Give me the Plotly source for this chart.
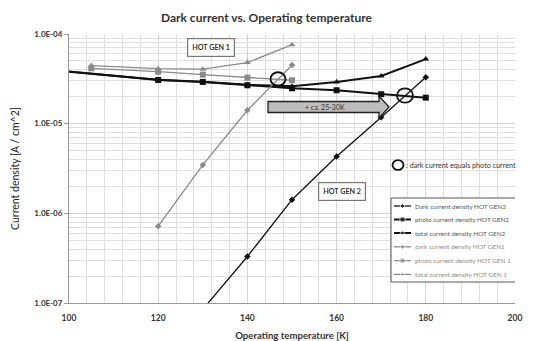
import plotly.graph_objects as go

# Operating temperatures [K]
temps_gen2 = [90, 120, 130, 140, 150, 160, 170, 180]
temps_gen2_dark = [130, 140, 150, 160, 170, 180]
temps_gen1 = [105, 120, 130, 140, 150]
temps_gen1_dark = [120, 130, 140, 150]

# Current densities [A / cm^2]
dark_gen2 = [8.5e-8, 3.3e-7, 1.42e-6, 4.3e-6, 1.18e-5, 3.3e-5]
photo_gen2 = [4.23e-5, 3.07e-5, 2.92e-5, 2.68e-5, 2.48e-5, 2.36e-5, 2.13e-5, 1.95e-5]
total_gen2 = [4.23e-5, 3.08e-5, 2.94e-5, 2.72e-5, 2.62e-5, 2.92e-5, 3.4e-5, 5.25e-5]

dark_gen1 = [7.2e-7, 3.47e-6, 1.41e-5, 4.51e-5]
photo_gen1 = [4.14e-5, 3.8e-5, 3.52e-5, 3.26e-5, 3.05e-5]
total_gen1 = [4.45e-5, 4.1e-5, 4.05e-5, 4.8e-5, 7.6e-5]

x_ticks = [100, 120, 140, 160, 180, 200]
y_ticks = [1e-7, 1e-6, 1e-5, 1e-4]
y_tick_text = ["1.0E-07", "1.0E-06", "1.0E-05", "1.0E-04"]

BLACK = "#111111"
GRAY = "#8a8a8a"
FONT = "Lato"

W, H = 533, 341
L, R, T, B = 69, 18, 34, 38
PW, PH = W - L - R, H - T - B


def px(x):
    return (x - L) / PW


def py(y):
    return (H - B - y) / PH


series = [
    dict(x=temps_gen2_dark, y=dark_gen2, name="Dark current density HOT GEN2",
         color=BLACK, width=1.3, symbol="diamond", size=5, text="#555"),
    dict(x=temps_gen2, y=photo_gen2, name="photo current density HOT GEN2",
         color=BLACK, width=2, symbol="square", size=6, text="#555"),
    dict(x=temps_gen2, y=total_gen2, name="total current density HOT GEN2",
         color=BLACK, width=2, symbol="triangle-up", size=6, text="#555"),
    dict(x=temps_gen1_dark, y=dark_gen1, name="dark current density HOT GEN1",
         color=GRAY, width=1.3, symbol="diamond", size=5, text="#8a8a8a"),
    dict(x=temps_gen1, y=photo_gen1, name="photo current density HOT GEN 1",
         color=GRAY, width=1.3, symbol="square", size=6, text="#8a8a8a"),
    dict(x=temps_gen1, y=total_gen1, name="total current density HOT GEN 1",
         color=GRAY, width=1.3, symbol="triangle-up", size=6, text="#8a8a8a"),
]

fig = go.Figure()
for s in series:
    fig.add_trace(go.Scatter(
        x=s["x"], y=s["y"], mode="lines+markers", name=s["name"], showlegend=False,
        line=dict(color=s["color"], width=s["width"]),
        marker=dict(symbol=s["symbol"], size=s["size"], color=s["color"])))

# Legend box, drawn on an overlay axis so its rows can be packed tightly
leg_x0, leg_x1, leg_y0, leg_y1 = 391, 517, 198, 282
row_y = [206, 219.5, 233, 246.8, 260.6, 274.4]
sample_x0, sample_x1, text_x = 394, 411, 413

fig.add_trace(go.Scatter(
    x=[px(leg_x0), px(leg_x1), px(leg_x1), px(leg_x0), px(leg_x0)],
    y=[py(leg_y0), py(leg_y0), py(leg_y1), py(leg_y1), py(leg_y0)],
    xaxis="x2", yaxis="y2", mode="lines", fill="toself", fillcolor="white",
    line=dict(color="#555", width=1), showlegend=False, hoverinfo="skip",
    cliponaxis=False))

annotations = []
for s, ry in zip(series, row_y):
    fig.add_trace(go.Scatter(
        x=[px(sample_x0), px((sample_x0 + sample_x1) / 2), px(sample_x1)],
        y=[py(ry)] * 3, xaxis="x2", yaxis="y2", mode="lines+markers",
        showlegend=False, hoverinfo="skip", cliponaxis=False,
        line=dict(color=s["color"], width=s["width"]),
        marker=dict(symbol=s["symbol"], size=[0, s["size"] - 1, 0], color=s["color"])))
    annotations.append(dict(
        text=s["name"], x=px(text_x), y=py(ry), xref="paper", yref="paper",
        xanchor="left", yanchor="middle", showarrow=False,
        font=dict(family=FONT, size=6.4, color=s["text"])))

# Block arrow marking the temperature gain
ax0, ax1, atip = 268, 379, 389
ay0, ay1, ahy0, ahy1 = 101.5, 112.5, 96, 118
pts = [(ax0, ay0), (ax1, ay0), (ax1, ahy0), (atip, (ay0 + ay1) / 2),
       (ax1, ahy1), (ax1, ay1), (ax0, ay1)]
path = "M " + " L ".join(f"{px(a):.4f},{py(b):.4f}" for a, b in pts) + " Z"
shapes = [dict(type="path", path=path, xref="paper", yref="paper",
               fillcolor="#bdbdbd", line=dict(color="#222222", width=1.3))]

# Circles where dark current equals photo current
for cx, cy, r in [(278, 79, 7.5), (405, 95.5, 8), (398, 165, 5.5)]:
    shapes.append(dict(type="circle", xref="paper", yref="paper",
                       x0=px(cx - r), x1=px(cx + r), y0=py(cy + r * 0.9), y1=py(cy - r * 0.9),
                       line=dict(color="#111111", width=1.8)))

annotations += [
    dict(text="<b>HOT GEN 1</b>", x=px(210.5), y=py(47.5), xref="paper", yref="paper",
         xanchor="center", yanchor="middle",
         showarrow=False, font=dict(family=FONT, size=7.2, color="#333"),
         bgcolor="white", bordercolor="#777", borderwidth=1.2, borderpad=4),
    dict(text="<b>HOT GEN 2</b>", x=px(341.5), y=py(191.5), xref="paper", yref="paper",
         xanchor="center", yanchor="middle",
         showarrow=False, font=dict(family=FONT, size=7.2, color="#333"),
         bgcolor="white", bordercolor="#777", borderwidth=1.2, borderpad=4),
    dict(text="+ ca. 25-30K", x=px(325), y=py(107), xref="paper", yref="paper",
         xanchor="center", yanchor="middle",
         showarrow=False, font=dict(family=FONT, size=7, color="#333")),
    dict(text=": dark current equals photo current", x=px(404), y=py(165),
         xref="paper", yref="paper", xanchor="left", yanchor="middle", showarrow=False,
         font=dict(family=FONT, size=7.2, color="#333")),
]

minor_y = [m * 10.0 ** e for e in range(-7, -4) for m in range(2, 10)]

fig.update_layout(
    width=W, height=H,
    margin=dict(l=L, r=R, t=T, b=B),
    paper_bgcolor="white", plot_bgcolor="white",
    font=dict(family=FONT, color="#333"),
    title=dict(text="<b>Dark current vs. Operating temperature</b>",
               x=0.5, xanchor="center", y=1 - 18 / H, yanchor="middle",
               font=dict(family=FONT, size=12, color="#333")),
    showlegend=False,
    shapes=shapes,
    annotations=annotations,
    xaxis=dict(
        range=[100, 200], tickvals=x_ticks, ticks="", showline=True,
        linecolor="#999", showgrid=True, gridcolor="#d4d4d4", zeroline=False,
        automargin=False, ticklabelstandoff=7,
        minor=dict(tickmode="linear", tick0=100, dtick=4, showgrid=True, gridcolor="#dedede"),
        tickfont=dict(family=FONT, size=8.5, color="#333", weight="bold"),
        title=dict(text="<b>Operating temperature [K]</b>", standoff=10,
                   font=dict(family=FONT, size=9.6, color="#333")),
    ),
    yaxis=dict(
        type="log", range=[-7, -4], tickvals=y_ticks, ticktext=y_tick_text,
        ticks="outside", ticklen=4, tickcolor="#999", showline=True,
        linecolor="#999", showgrid=True, gridcolor="#d4d4d4", zeroline=False,
        automargin=False,
        minor=dict(tickmode="array", tickvals=minor_y, showgrid=True, gridcolor="#dedede"),
        tickfont=dict(family=FONT, size=8, color="#333", weight="bold"),
        title=dict(text="Current density [A / cm^2]", standoff=12,
                   font=dict(family=FONT, size=10.5, color="#222")),
    ),
    xaxis2=dict(range=[0, 1], overlaying="x", visible=False, fixedrange=True),
    yaxis2=dict(range=[0, 1], overlaying="y", visible=False, fixedrange=True,
                anchor="x2"),
)

fig.write_html("out.html")
